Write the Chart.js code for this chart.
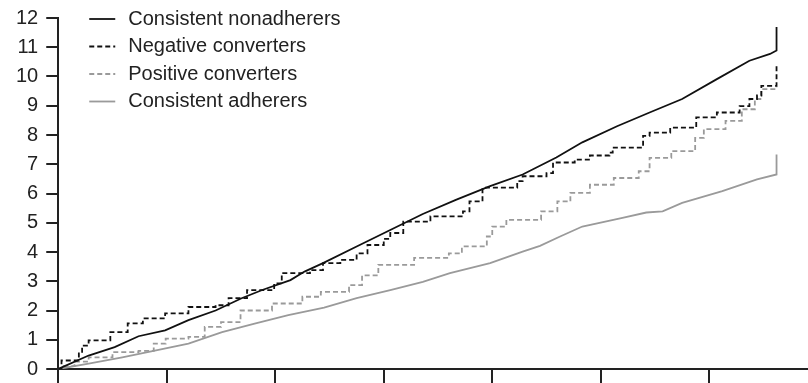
<!DOCTYPE html>
<html lang="en">
<head>
    <meta charset="UTF-8">
    <title>Cumulative incidence</title>
    <script src="https://cdn.jsdelivr.net/npm/chart.js@4.4.1/dist/chart.umd.min.js"></script>
    <style>
        html, body { margin: 0; padding: 0; background: #fff; }
        #wrap { width: 808px; height: 383px; }
    </style>
</head>
<body>
    <div id="wrap"><canvas id="myChart" width="808" height="383"></canvas></div>
    <script>
        // x axis ticks (years) and y axis ticks
        const xTicks = [0, 1, 2, 3, 4, 5, 6];
        const yTicks = [0, 1, 2, 3, 4, 5, 6, 7, 8, 9, 10, 11, 12];

        const labels = ['Consistent nonadherers', 'Negative converters', 'Positive converters', 'Consistent adherers'];

        const timeNonadherers = [0, 0.28, 0.52, 0.74, 0.985, 1.2, 1.45, 1.69, 1.88, 2.14, 2.27, 2.44, 2.75, 3.06, 3.36, 3.67, 3.98, 4.28, 4.59, 4.83, 5.15, 5.45, 5.75, 6.07, 6.37, 6.56, 6.62, 6.62];
        const nonadherers = [0, 0.46, 0.75, 1.12, 1.32, 1.67, 2.0, 2.42, 2.7, 3.04, 3.33, 3.62, 4.19, 4.75, 5.3, 5.79, 6.25, 6.65, 7.23, 7.75, 8.3, 8.77, 9.23, 9.91, 10.54, 10.77, 10.89, 11.69];

        const timeNegative = [0, 0.03, 0.19, 0.22, 0.28, 0.48, 0.64, 0.78, 0.985, 1.2, 1.45, 1.57, 1.74, 1.99, 2.06, 2.32, 2.44, 2.6, 2.75, 2.85, 3.0, 3.06, 3.18, 3.43, 3.73, 3.79, 3.91, 4.23, 4.28, 4.5, 4.56, 4.76, 4.9, 5.08, 5.11, 5.39, 5.45, 5.64, 5.88, 6.07, 6.28, 6.37, 6.44, 6.48, 6.62, 6.62];
        const negative = [0, 0.29, 0.53, 0.8, 0.98, 1.26, 1.56, 1.73, 1.9, 2.12, 2.18, 2.42, 2.7, 2.93, 3.28, 3.38, 3.62, 3.73, 3.95, 4.24, 4.45, 4.65, 5.04, 5.22, 5.39, 5.73, 6.2, 6.42, 6.59, 6.7, 7.06, 7.16, 7.3, 7.4, 7.57, 7.97, 8.08, 8.25, 8.6, 8.77, 8.99, 9.23, 9.35, 9.68, 9.7, 10.43];

        const timePositive = [0, 0.05, 0.15, 0.28, 0.5, 0.74, 0.88, 0.99, 1.2, 1.35, 1.5, 1.68, 1.97, 2.25, 2.42, 2.68, 2.8, 2.95, 3.28, 3.6, 3.72, 3.95, 4.0, 4.13, 4.45, 4.6, 4.72, 4.9, 5.12, 5.35, 5.45, 5.65, 5.87, 5.95, 6.15, 6.3, 6.42, 6.48, 6.62];
        const positive = [0, 0.1, 0.25, 0.4, 0.58, 0.62, 0.87, 1.04, 1.1, 1.44, 1.6, 2.0, 2.24, 2.47, 2.64, 2.87, 3.2, 3.56, 3.8, 3.95, 4.19, 4.53, 4.87, 5.1, 5.39, 5.73, 6.02, 6.3, 6.53, 6.76, 7.22, 7.45, 7.9, 8.2, 8.48, 8.88, 9.23, 9.57, 9.66];

        const timeAdherers = [0, 0.28, 0.59, 0.89, 1.2, 1.51, 1.81, 2.12, 2.45, 2.75, 3.06, 3.36, 3.61, 3.98, 4.28, 4.44, 4.62, 4.83, 5.2, 5.42, 5.57, 5.75, 6.12, 6.44, 6.62, 6.62];
        const adherers = [0, 0.18, 0.4, 0.63, 0.87, 1.26, 1.55, 1.84, 2.1, 2.42, 2.7, 2.98, 3.28, 3.62, 4.01, 4.21, 4.52, 4.87, 5.17, 5.35, 5.39, 5.68, 6.08, 6.48, 6.65, 7.33];

        function toPoints(times, values) {
            return times.map((t, i) => ({ x: t, y: values[i] }));
        }

        const fontFamily = "'Liberation Sans', Arial, sans-serif";

        // legend drawn as a plain list: line sample + label, one row per dataset
        const lineLegend = {
            id: 'lineLegend',
            afterDraw(chart) {
                const c = chart.ctx;
                const left = chart.chartArea.left + 31;
                const top = chart.chartArea.top;
                c.save();
                c.font = '20px ' + fontFamily;
                c.textBaseline = 'middle';
                chart.data.datasets.forEach((ds, i) => {
                    const y = top + 1 + i * 27.5;
                    c.strokeStyle = ds.borderColor;
                    c.lineWidth = ds.borderWidth;
                    c.setLineDash(ds.borderDash || []);
                    c.beginPath();
                    c.moveTo(left, y);
                    c.lineTo(left + 26, y);
                    c.stroke();
                    c.fillStyle = '#222';
                    c.fillText(ds.label, left + 39, y);
                });
                c.restore();
            }
        };

        const ctx = document.getElementById('myChart').getContext('2d');
        const myChart = new Chart(ctx, {
            type: 'line',
            data: {
                datasets: [{
                    label: labels[0],
                    data: toPoints(timeNonadherers, nonadherers),
                    borderColor: '#111111',
                    borderWidth: 1.8,
                    pointRadius: 0
                }, {
                    label: labels[1],
                    data: toPoints(timeNegative, negative),
                    borderColor: '#111111',
                    borderWidth: 1.8,
                    borderDash: [5, 3],
                    stepped: true,
                    pointRadius: 0
                }, {
                    label: labels[2],
                    data: toPoints(timePositive, positive),
                    borderColor: '#9a9a9a',
                    borderWidth: 1.8,
                    borderDash: [5, 3],
                    stepped: true,
                    pointRadius: 0
                }, {
                    label: labels[3],
                    data: toPoints(timeAdherers, adherers),
                    borderColor: '#9a9a9a',
                    borderWidth: 1.8,
                    pointRadius: 0
                }]
            },
            options: {
                responsive: false,
                animation: false,
                layout: { padding: { top: 18, left: 8, right: 0, bottom: 0 } },
                plugins: {
                    tooltip: { enabled: false },
                    legend: { display: false }
                },
                scales: {
                    x: {
                        type: 'linear',
                        min: 0,
                        max: 6.91,
                        afterBuildTicks: (axis) => { axis.ticks = xTicks.map(v => ({ value: v })); },
                        border: { display: true, color: '#222', width: 2 },
                        grid: { drawOnChartArea: false, drawTicks: true, tickLength: 14, color: '#222', lineWidth: 2 },
                        ticks: { display: false }
                    },
                    y: {
                        min: 0,
                        max: 12,
                        afterBuildTicks: (axis) => { axis.ticks = yTicks.map(v => ({ value: v })); },
                        border: { display: true, color: '#222', width: 2 },
                        grid: { drawOnChartArea: false, drawTicks: true, tickLength: 12, color: '#222', lineWidth: 2 },
                        ticks: { color: '#222', font: { family: fontFamily, size: 20, lineHeight: 0.6 }, padding: 8 }
                    }
                }
            },
            plugins: [lineLegend]
        });
    </script>
</body>
</html>
